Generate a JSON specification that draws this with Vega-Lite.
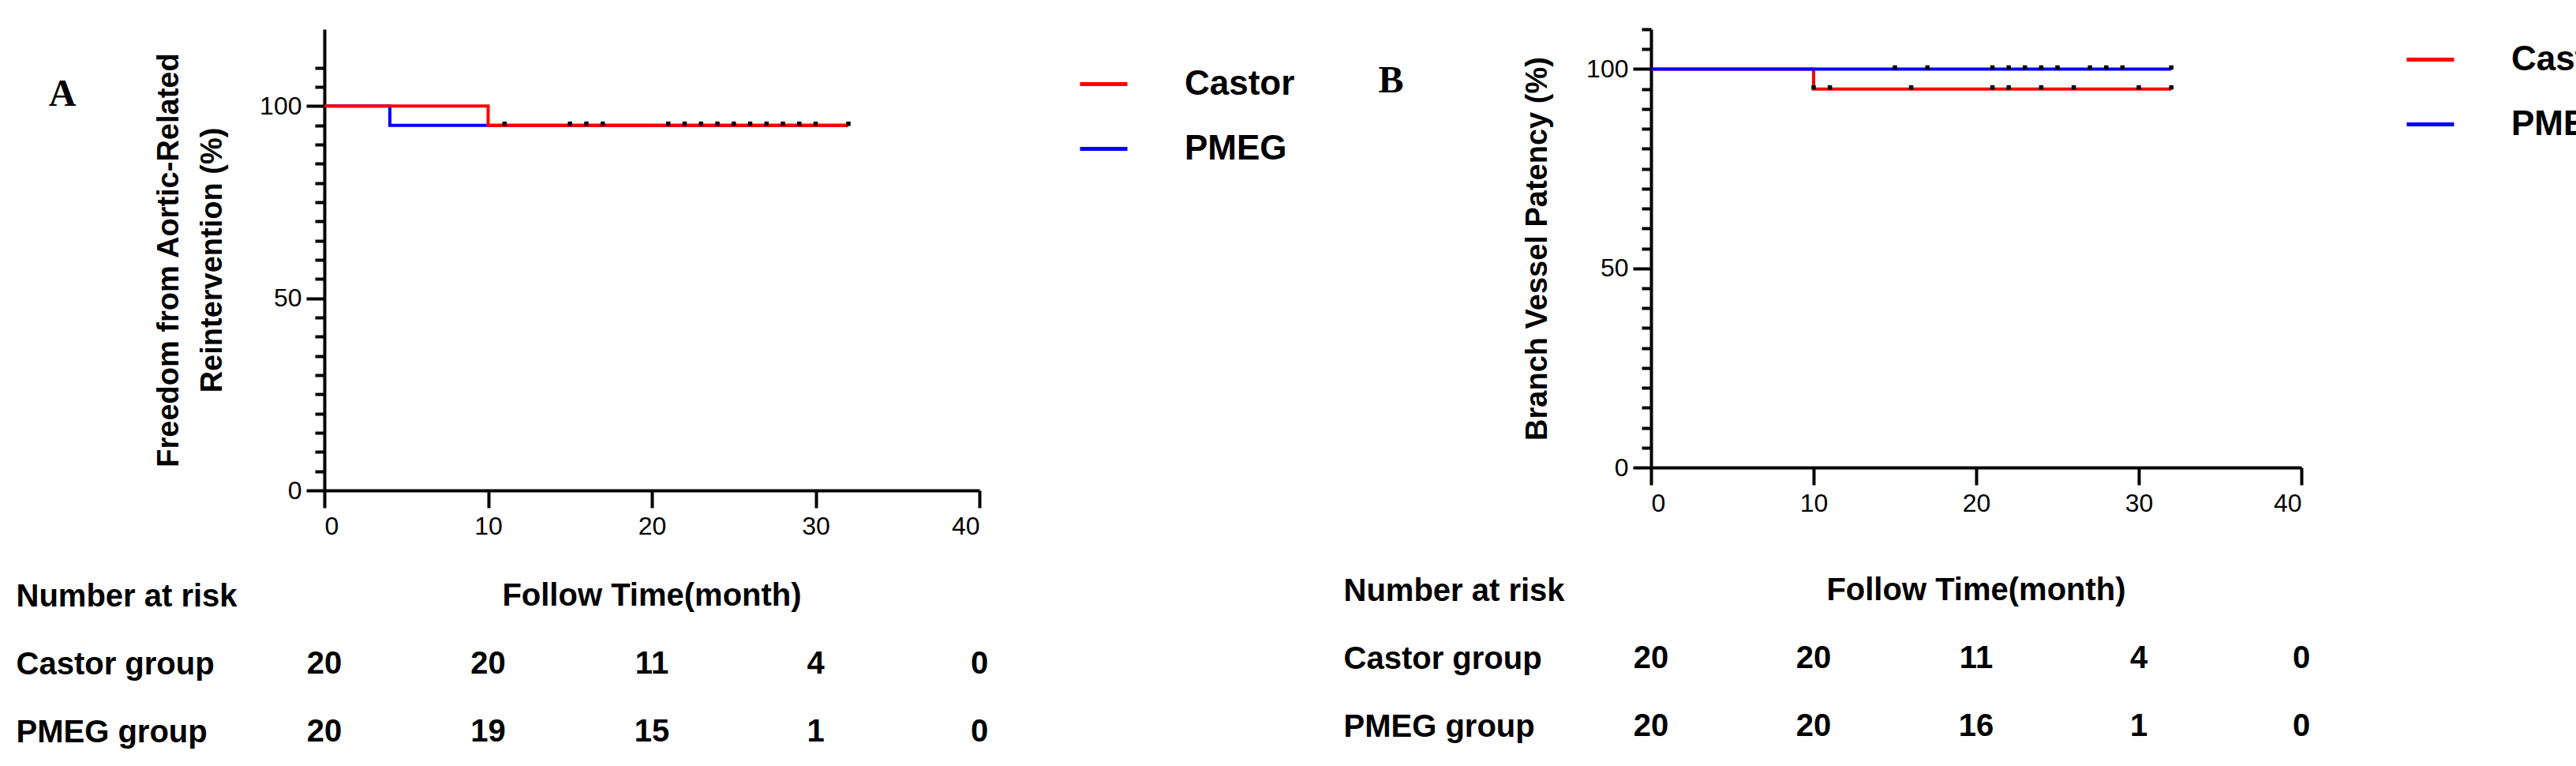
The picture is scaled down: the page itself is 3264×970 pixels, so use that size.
{
  "$schema": "https://vega.github.io/schema/vega-lite/v6.json",
  "padding": {"left": 20, "top": 35, "right": 0, "bottom": 0},
  "background": "white",
  "config": {
    "font": "Liberation Sans",
    "view": {"stroke": null},
    "axis": {"domainColor": "black", "tickColor": "black", "labelColor": "black", "titleColor": "black", "grid": false, "labelLimit": 0}
  },
  "datasets": {
    "curveA": [
      {"group": "PMEG", "month": 0, "pct": 100},
      {"group": "PMEG", "month": 4, "pct": 95},
      {"group": "PMEG", "month": 32, "pct": 95},
      {"group": "Castor", "month": 0, "pct": 100},
      {"group": "Castor", "month": 10, "pct": 95},
      {"group": "Castor", "month": 32, "pct": 95}
    ],
    "censorA": [
      {"month": 11, "pct": 95}, {"month": 15, "pct": 95}, {"month": 16, "pct": 95},
      {"month": 17, "pct": 95}, {"month": 21, "pct": 95}, {"month": 22, "pct": 95},
      {"month": 23, "pct": 95}, {"month": 24, "pct": 95}, {"month": 25, "pct": 95},
      {"month": 26, "pct": 95}, {"month": 27, "pct": 95}, {"month": 28, "pct": 95},
      {"month": 29, "pct": 95}, {"month": 30, "pct": 95}, {"month": 32, "pct": 95}
    ],
    "curveB": [
      {"group": "Castor", "month": 0, "pct": 100},
      {"group": "Castor", "month": 10, "pct": 95},
      {"group": "Castor", "month": 32, "pct": 95},
      {"group": "PMEG", "month": 0, "pct": 100},
      {"group": "PMEG", "month": 10, "pct": 100},
      {"group": "PMEG", "month": 32, "pct": 100}
    ],
    "censorB": [
      {"month": 15, "pct": 100}, {"month": 17, "pct": 100}, {"month": 21, "pct": 100},
      {"month": 22, "pct": 100}, {"month": 23, "pct": 100}, {"month": 24, "pct": 100},
      {"month": 25, "pct": 100}, {"month": 27, "pct": 100}, {"month": 28, "pct": 100},
      {"month": 29, "pct": 100}, {"month": 32, "pct": 100},
      {"month": 10, "pct": 95}, {"month": 11, "pct": 95}, {"month": 16, "pct": 95},
      {"month": 21, "pct": 95}, {"month": 22, "pct": 95}, {"month": 24, "pct": 95},
      {"month": 26, "pct": 95}, {"month": 30, "pct": 95}, {"month": 32, "pct": 95}
    ],
    "riskA": [
      {"row": "Number at risk", "month": 20, "n": "Follow Time(month)"},
      {"row": "Castor group", "month": 0, "n": "20"},
      {"row": "Castor group", "month": 10, "n": "20"},
      {"row": "Castor group", "month": 20, "n": "11"},
      {"row": "Castor group", "month": 30, "n": "4"},
      {"row": "Castor group", "month": 40, "n": "0"},
      {"row": "PMEG group", "month": 0, "n": "20"},
      {"row": "PMEG group", "month": 10, "n": "19"},
      {"row": "PMEG group", "month": 20, "n": "15"},
      {"row": "PMEG group", "month": 30, "n": "1"},
      {"row": "PMEG group", "month": 40, "n": "0"}
    ],
    "riskB": [
      {"row": "Number at risk", "month": 20, "n": "Follow Time(month)"},
      {"row": "Castor group", "month": 0, "n": "20"},
      {"row": "Castor group", "month": 10, "n": "20"},
      {"row": "Castor group", "month": 20, "n": "11"},
      {"row": "Castor group", "month": 30, "n": "4"},
      {"row": "Castor group", "month": 40, "n": "0"},
      {"row": "PMEG group", "month": 0, "n": "20"},
      {"row": "PMEG group", "month": 10, "n": "20"},
      {"row": "PMEG group", "month": 20, "n": "16"},
      {"row": "PMEG group", "month": 30, "n": "1"},
      {"row": "PMEG group", "month": 40, "n": "0"}
    ]
  },
  "hconcat": [
    {
      "spacing": 30,
      "vconcat": [
        {
          "width": 830,
          "height": 584,
          "layer": [
            {
              "data": {"name": "curveA"},
              "mark": {"type": "line", "interpolate": "step-after", "strokeWidth": 4},
              "encoding": {
                "x": {"field": "month", "type": "quantitative", "scale": {"domain": [0, 40]},
                  "axis": {"values": [0, 10, 20, 30, 40], "title": null, "labelFontSize": 32, "tickSize": 22, "tickWidth": 4, "domainWidth": 4, "labelPadding": 8}},
                "y": {"field": "pct", "type": "quantitative", "scale": {"domain": [0, 116]},
                  "axis": {"values": [0, 50, 100], "labelFontSize": 32, "tickSize": 23, "tickWidth": 4, "domainWidth": 4, "labelPadding": 6,
                    "title": ["Freedom from Aortic-Related", "Reintervention (%)"], "titleFontSize": 38, "titleFontWeight": "bold", "titleLineHeight": 55, "titlePadding": 40}},
                "color": {"field": "group", "type": "nominal", "sort": ["Castor", "PMEG"],
                  "scale": {"domain": ["Castor", "PMEG"], "range": ["#ff0000", "#0000ff"]},
                  "legend": {"title": null, "orient": "none", "legendX": 955, "legendY": 37, "symbolType": "stroke", "symbolSize": 3600, "symbolStrokeWidth": 5,
                    "labelFontSize": 44, "labelFontWeight": "bold", "labelOffset": 70, "rowPadding": 27}},
                "order": {"field": "group", "sort": "descending"}
              }
            },
            {
              "data": {"name": "censorA"},
              "mark": {"type": "square", "color": "black", "size": 30, "opacity": 1, "yOffset": -2},
              "encoding": {
                "x": {"field": "month", "type": "quantitative"},
                "y": {"field": "pct", "type": "quantitative",
                  "axis": {"orient": "left", "values": [5, 10, 15, 20, 25, 30, 35, 40, 45, 55, 60, 65, 70, 75, 80, 85, 90, 95, 105, 110], "labels": false, "tickSize": 12, "tickWidth": 4, "domain": false, "title": null}}
              }
            },
            {
              "data": {"values": [{"month": -16, "pct": 103, "label": "A"}]},
              "mark": {"type": "text", "font": "Liberation Serif", "fontSize": 48, "fontWeight": "bold", "color": "black", "baseline": "middle"},
              "encoding": {
                "x": {"field": "month", "type": "quantitative"},
                "y": {"field": "pct", "type": "quantitative", "axis": null},
                "text": {"field": "label"}
              }
            }
          ],
          "resolve": {"axis": {"y": "independent"}}
        },
        {
          "width": 830,
          "height": 258,
          "data": {"name": "riskA"},
          "mark": {"type": "text", "fontSize": 40, "fontWeight": "bold", "color": "black"},
          "encoding": {
            "x": {"field": "month", "type": "quantitative", "scale": {"domain": [0, 40]}, "axis": null},
            "y": {"field": "row", "type": "nominal", "sort": ["Number at risk", "Castor group", "PMEG group"],
              "axis": {"title": null, "domain": false, "ticks": false, "labelAlign": "left", "labelPadding": 391, "labelFontSize": 40, "labelFontWeight": "bold"}},
            "text": {"field": "n"}
          }
        }
      ]
    },
    {
      "spacing": 52,
      "vconcat": [
        {
          "width": 824,
          "height": 555,
          "layer": [
            {
              "data": {"name": "curveB"},
              "mark": {"type": "line", "interpolate": "step-after", "strokeWidth": 4},
              "encoding": {
                "x": {"field": "month", "type": "quantitative", "scale": {"domain": [0, 40]},
                  "axis": {"values": [0, 10, 20, 30, 40], "title": null, "labelFontSize": 32, "tickSize": 22, "tickWidth": 4, "domainWidth": 4, "labelPadding": 8}},
                "y": {"field": "pct", "type": "quantitative", "scale": {"domain": [0, 110]},
                  "axis": {"values": [0, 50, 100], "labelFontSize": 32, "tickSize": 23, "tickWidth": 4, "domainWidth": 4, "labelPadding": 6,
                    "title": "Branch Vessel Patency (%)", "titleFontSize": 38, "titleFontWeight": "bold", "titlePadding": 42}},
                "color": {"field": "group", "type": "nominal",
                  "scale": {"domain": ["Castor", "PMEG"], "range": ["#ff0000", "#0000ff"]},
                  "legend": {"title": null, "orient": "none", "legendX": 955, "legendY": 6, "symbolType": "stroke", "symbolSize": 3600, "symbolStrokeWidth": 5,
                    "labelFontSize": 44, "labelFontWeight": "bold", "labelOffset": 70, "rowPadding": 27}}
              }
            },
            {
              "data": {"name": "censorB"},
              "mark": {"type": "square", "color": "black", "size": 30, "opacity": 1, "yOffset": -2},
              "encoding": {
                "x": {"field": "month", "type": "quantitative"},
                "y": {"field": "pct", "type": "quantitative",
                  "axis": {"orient": "left", "values": [5, 10, 15, 20, 25, 30, 35, 40, 45, 55, 60, 65, 70, 75, 80, 85, 90, 95, 105, 110], "labels": false, "tickSize": 12, "tickWidth": 4, "domain": false, "title": null}}
              }
            },
            {
              "data": {"values": [{"month": -16, "pct": 97, "label": "B"}]},
              "mark": {"type": "text", "font": "Liberation Serif", "fontSize": 48, "fontWeight": "bold", "color": "black", "baseline": "middle"},
              "encoding": {
                "x": {"field": "month", "type": "quantitative"},
                "y": {"field": "pct", "type": "quantitative", "axis": null},
                "text": {"field": "label"}
              }
            }
          ],
          "resolve": {"axis": {"y": "independent"}}
        },
        {
          "width": 824,
          "height": 258,
          "data": {"name": "riskB"},
          "mark": {"type": "text", "fontSize": 40, "fontWeight": "bold", "color": "black"},
          "encoding": {
            "x": {"field": "month", "type": "quantitative", "scale": {"domain": [0, 40]}, "axis": null},
            "y": {"field": "row", "type": "nominal", "sort": ["Number at risk", "Castor group", "PMEG group"],
              "axis": {"title": null, "domain": false, "ticks": false, "labelAlign": "left", "labelPadding": 390, "labelFontSize": 40, "labelFontWeight": "bold"}},
            "text": {"field": "n"}
          }
        }
      ]
    }
  ],
  "resolve": {"legend": {"color": "independent"}},
  "spacing": 61
}
